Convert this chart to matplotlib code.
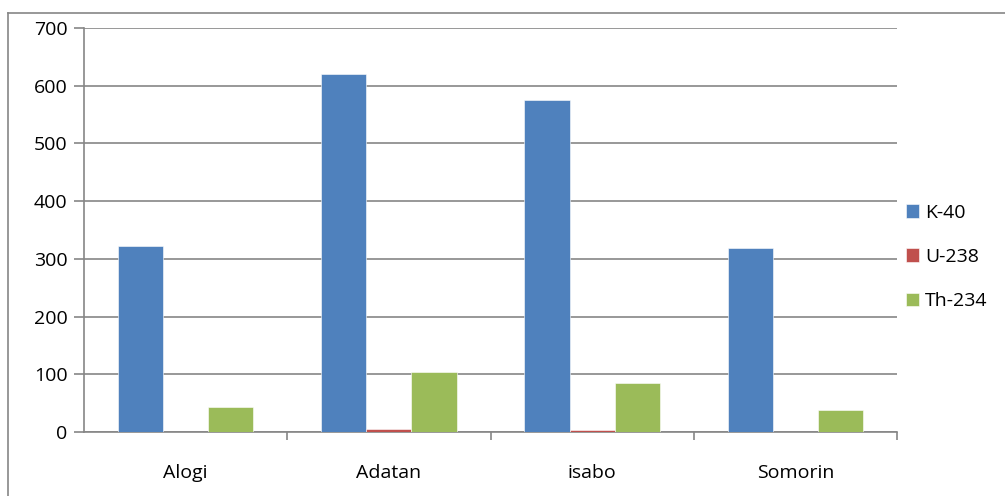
import matplotlib.pyplot as plt
import numpy as np
from matplotlib.lines import Line2D

sites = ["Alogi", "Adatan", "isabo", "Somorin"]
k40 = [322, 620, 575, 319]
u238 = [0.8, 4.5, 3.5, 0.3]
th234 = [43, 104, 85, 38]

series = [("K-40", k40, "#4F81BD"), ("U-238", u238, "#C0504D"), ("Th-234", th234, "#9BBB59")]
grid_col = "#868686"

plt.rcParams["font.family"] = ["Open Sans", "DejaVu Sans"]

fig = plt.figure(figsize=(10.05, 4.96), dpi=100)
ax = fig.add_axes([84 / 1005, 1 - 432 / 496, (897 - 84) / 1005, (432 - 28) / 496])

x = np.arange(len(sites))
width = 1 / (3 + 1.5)
for i, (name, vals, col) in enumerate(series):
    ax.bar(x + (i - 1) * width, vals, width, color=col, label=name,
           edgecolor="white", linewidth=0.4, zorder=3)

ax.set_xlim(-0.5, len(sites) - 0.5)
ax.set_ylim(0, 700)
ax.set_yticks(range(0, 701, 100))
ax.yaxis.grid(True, color=grid_col, linewidth=1.2, zorder=0)
ax.set_xticks(x)
ax.set_xticklabels(sites)
ax.set_xticks(np.arange(0.5, len(sites), 1), minor=True)
ax.tick_params(axis="x", which="major", length=0, pad=23, labelsize=14)
ax.tick_params(axis="x", which="minor", length=6, color=grid_col, width=1.2)
ax.tick_params(axis="y", length=7, color=grid_col, width=1.2, labelsize=14, pad=5)

for side in ["top", "right"]:
    ax.spines[side].set_visible(False)
for side in ["left", "bottom"]:
    ax.spines[side].set_color(grid_col)
    ax.spines[side].set_linewidth(1.2)

ax.legend(loc="center left", bbox_to_anchor=(898 / 1005, 1 - 257 / 496),
          bbox_transform=fig.transFigure, frameon=False, fontsize=14,
          handlelength=0.7, handleheight=0.7, handletextpad=0.3,
          labelspacing=1.35, borderaxespad=0)

# outer chart frame (left and top edges visible)
fig.add_artist(Line2D([8 / 1005, 8 / 1005], [0, 1 - 13 / 496], transform=fig.transFigure,
                      color=grid_col, linewidth=1.2))
fig.add_artist(Line2D([8 / 1005, 1], [1 - 13 / 496, 1 - 13 / 496], transform=fig.transFigure,
                      color=grid_col, linewidth=1.2))

fig.savefig("out.png", dpi=100)
